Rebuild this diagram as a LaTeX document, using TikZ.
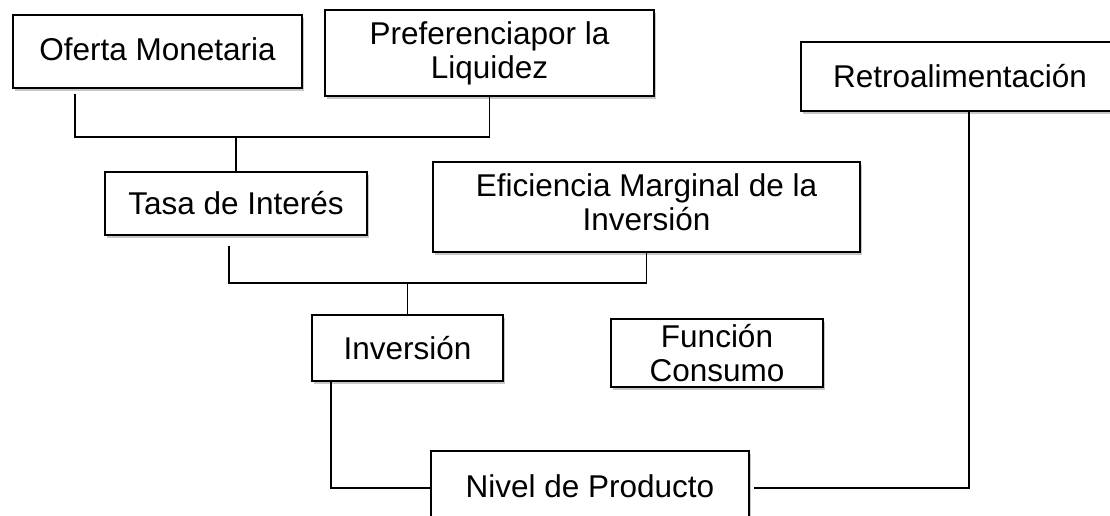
\documentclass[tikz,border=0pt]{standalone}
\usepackage{fontspec}
\setmainfont{Liberation Sans}
\usetikzlibrary{shadows}
\tikzset{
  box/.style={draw, line width=1.5pt, fill=white, inner sep=0pt, align=center,
    drop shadow={shadow xshift=2pt, shadow yshift=-3pt, fill=black, opacity=0.22}},
  link/.style={draw, line width=1.6pt},
}
\begin{document}
\begin{tikzpicture}[x=1pt, y=-1pt, node font=\fontsize{31.5}{34}\selectfont]
    \useasboundingbox (0,0) rectangle (1110,515);
    % boxes
    \node[box, minimum width=289pt, minimum height=73pt] (oferta) at (157.5,51.5) {\raisebox{4pt}{Oferta Monetaria}};
    \node[box, minimum width=329pt, minimum height=86pt] (preferencia) at (489.5,53) {Preferenciapor la\\Liquidez};
    \node[box, minimum width=318pt, minimum height=69pt] (retro) at (960,76.5) {Retroalimentación};
    \node[box, minimum width=262pt, minimum height=63pt] (tasa) at (236,203.5) {Tasa de Interés};
    \node[box, minimum width=427pt, minimum height=90pt] (eficiencia) at (646.5,207)
        {\raisebox{9pt}{\begin{tabular}{@{}c@{}}Eficiencia Marginal de la\\Inversión\end{tabular}}};
    \node[box, minimum width=191pt, minimum height=66pt] (inversion) at (407.5,348) {Inversión};
    \node[box, minimum width=212pt, minimum height=68pt] (consumo) at (717,353) {Función\\Consumo};
    \node[box, minimum width=318pt, minimum height=74pt] (producto) at (590,488) {\raisebox{3pt}{Nivel de Producto}};
    % joints
    \coordinate (j1) at (236,137);
    \coordinate (j2) at (407.5,283);
    % lines
    \draw[link] ([xshift=-82.5pt, yshift=-5pt]oferta.south) |- (j1) -| (preferencia.south);
    \draw[link] (j1) -- (tasa.north);
    \draw[link] ([xshift=-7pt, yshift=-10pt]tasa.south) |- (j2);
    \draw[link] (eficiencia.south) |- (j2) -- (inversion.north);
    \draw[link] ([xshift=-76.5pt]inversion.south) |- (producto.west);
    \draw[link] ([xshift=4pt]producto.east) -| ([xshift=9pt]retro.south);
\end{tikzpicture}
\end{document}
